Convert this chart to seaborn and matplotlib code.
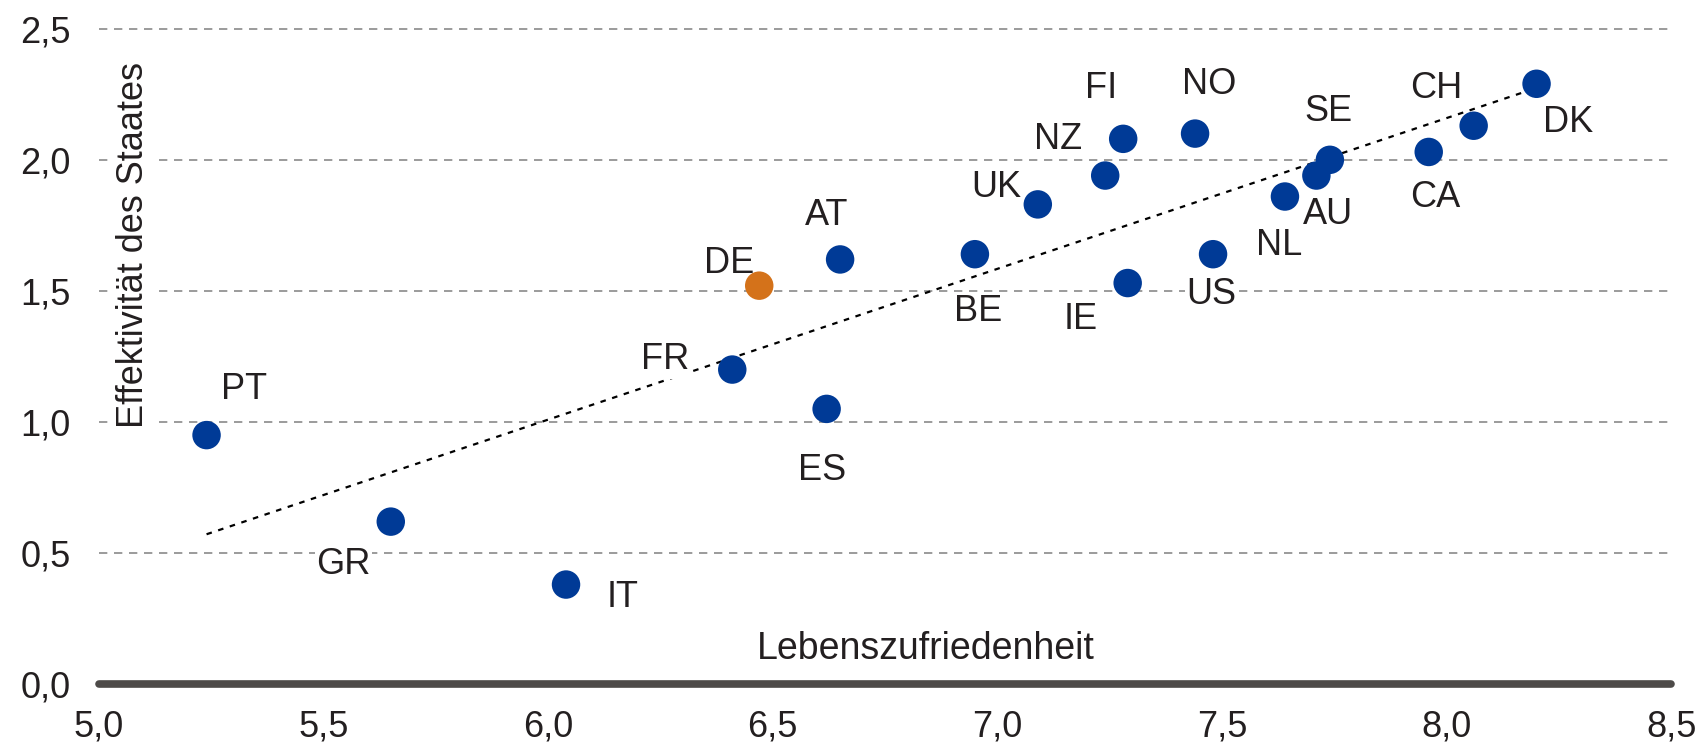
import numpy as np
import pandas as pd
import seaborn as sns
import matplotlib.pyplot as plt

# Lebenszufriedenheit vs. Effektivität des Staates
countries = ['PT', 'GR', 'IT', 'FR', 'DE', 'ES', 'AT', 'BE', 'UK', 'NZ',
             'FI', 'IE', 'NO', 'US', 'NL', 'AU', 'SE', 'CA', 'CH', 'DK']
life_sat = [5.24, 5.65, 6.04, 6.41, 6.47, 6.62, 6.65, 6.95, 7.09, 7.24,
            7.28, 7.29, 7.44, 7.48, 7.64, 7.71, 7.74, 7.96, 8.06, 8.20]
gov_eff = [0.95, 0.62, 0.38, 1.20, 1.52, 1.05, 1.62, 1.64, 1.83, 1.94,
           2.08, 1.53, 2.10, 1.64, 1.86, 1.94, 2.00, 2.03, 2.13, 2.29]
x_ticks = [5.0, 5.5, 6.0, 6.5, 7.0, 7.5, 8.0, 8.5]
x_ticklabels = ['5,0', '5,5', '6,0', '6,5', '7,0', '7,5', '8,0', '8,5']
y_ticks = [0.0, 0.5, 1.0, 1.5, 2.0, 2.5]
y_ticklabels = ['0,0', '0,5', '1,0', '1,5', '2,0', '2,5']

# label offsets in points (layout only)
offsets = {'PT': (27, 33), 'GR': (-34, -31), 'IT': (41, -9), 'FR': (-48, 7),
           'DE': (-22, 16), 'ES': (-3, -44), 'AT': (-10, 32), 'BE': (2, -41),
           'UK': (-30, 12), 'NZ': (-34, 26), 'FI': (-16, 36), 'IE': (-34, -26),
           'NO': (10, 35), 'US': (-1, -29), 'NL': (-4, -35), 'AU': (8, -28),
           'SE': (-1, 35), 'CA': (5, -33), 'CH': (-27, 27), 'DK': (23, -28)}

df = pd.DataFrame({'land': countries, 'x': life_sat, 'y': gov_eff})
df['grp'] = np.where(df['land'] == 'DE', 'DE', 'andere')

sns.set_style('white')
plt.rcParams['font.family'] = ['Liberation Sans', 'DejaVu Sans']
fs = 26

fig = plt.figure(figsize=(17.02, 7.56), dpi=100)
ax = fig.add_axes([0.058, 0.095, 0.924, 0.867])

for yv in y_ticks[1:]:
    ax.axhline(yv, color='#8a8a8a', lw=1.2, ls=(0, (5, 4)), zorder=1, clip_on=False)
ax.axhline(0, color='#4D4A48', lw=5.5, solid_capstyle='round', zorder=2, clip_on=False)

# linear trend
k, d = np.polyfit(df['x'], df['y'], 1)
xs = np.array([df['x'].min(), df['x'].max()])
ax.plot(xs, k * xs + d, color='black', lw=1.6, ls=(0, (2.5, 3)), zorder=2)

sns.scatterplot(data=df, x='x', y='y', hue='grp',
                palette={'andere': '#003A96', 'DE': '#D4721A'},
                s=420, edgecolor='none', legend=False, ax=ax, zorder=4)

for _, r in df.iterrows():
    dx, dy = offsets[r['land']]
    ax.annotate(r['land'], (r['x'], r['y']), xytext=(dx, dy), textcoords='offset points',
                ha='center', va='center', fontsize=fs, color='#231F20', zorder=3,
                bbox=dict(facecolor='white', edgecolor='none', pad=1))

ax.set_xlim(5.0, 8.5)
ax.set_ylim(0, 2.5)
ax.set_xticks(x_ticks)
ax.set_xticklabels(x_ticklabels)
ax.set_yticks(y_ticks)
ax.set_yticklabels(y_ticklabels)
ax.tick_params(axis='x', length=0, pad=18, labelsize=fs, labelcolor='#231F20')
ax.tick_params(axis='y', length=0, pad=20, labelsize=fs, labelcolor='#231F20')
ax.set_xlabel('')
ax.set_ylabel('')
for sp in ax.spines.values():
    sp.set_visible(False)

ax.text(5.077, 1.676, 'Effektivität des Staates', rotation=90, ha='center', va='center',
        fontsize=fs, color='#231F20', zorder=3,
        bbox=dict(facecolor='white', edgecolor='none', pad=6))
ax.text(6.84, 0.133, 'Lebenszufriedenheit',
        ha='center', va='center', fontsize=fs + 1, color='#231F20', zorder=3,
        bbox=dict(facecolor='white', edgecolor='none', pad=2))

plt.savefig('out.png', dpi=100)
